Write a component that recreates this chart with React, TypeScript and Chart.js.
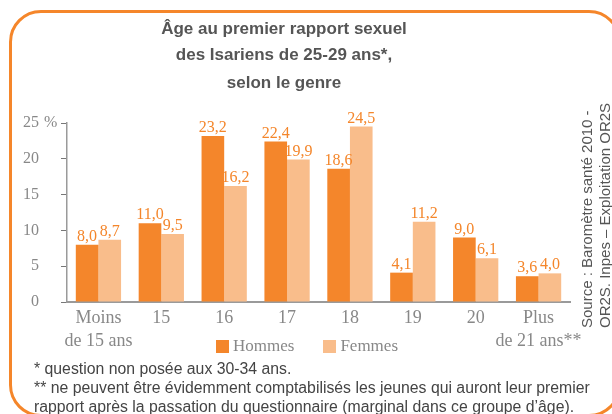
import React, { useEffect, useRef } from "react";
import { Chart, registerables } from "chart.js";

Chart.register(...registerables);

const categories: (string | string[])[] = [
  ["Moins", "de 15 ans"],
  "15",
  "16",
  "17",
  "18",
  "19",
  "20",
  ["Plus", "de 21 ans**"],
];
const hommes = [8.0, 11.0, 23.2, 22.4, 18.6, 4.1, 9.0, 3.6];
const femmes = [8.7, 9.5, 16.2, 19.9, 24.5, 11.2, 6.1, 4.0];
const yTicks = [0, 5, 10, 15, 20, 25];
const seriesNames = ["Hommes", "Femmes"];
const titleLines = [
  "Âge au premier rapport sexuel",
  "des Isariens de 25-29 ans*,",
  "selon le genre",
];
const footnotes = [
  "* question non posée aux 30-34 ans.",
  "** ne peuvent être évidemment comptabilisés les jeunes qui auront leur premier",
  "rapport après la passation du questionnaire (marginal dans ce groupe d’âge).",
];
const sourceLines = ["Source : Baromètre santé 2010 -", "OR2S. Inpes – Exploitation OR2S"];

const C_H = "#F4862B";
const C_F = "#F9BD8B";
const SERIF = "'Liberation Serif', 'Times New Roman', serif";
const SANS = "'Liberation Sans', Arial, sans-serif";

const valueLabels = {
  id: "valueLabels",
  afterDatasetsDraw(chart: any) {
    const ctx = chart.ctx;
    ctx.save();
    ctx.fillStyle = C_H;
    ctx.font = `16px ${SERIF}`;
    ctx.textAlign = "center";
    ctx.textBaseline = "alphabetic";
    chart.data.datasets.forEach((ds: any, di: number) => {
      const meta = chart.getDatasetMeta(di);
      meta.data.forEach((el: any, i: number) => {
        const v = ds.data[i] as number;
        ctx.fillText(v.toFixed(1).replace(".", ","), el.x, el.y - 4);
      });
    });
    const ys = chart.scales.y;
    ctx.fillStyle = "#888";
    ctx.textAlign = "left";
    ctx.textBaseline = "middle";
    ctx.fillText("%", 44, ys.getPixelForValue(yTicks[yTicks.length - 1]));
    ctx.restore();
  },
};

export default function App() {
  const ref = useRef<HTMLCanvasElement | null>(null);
  useEffect(() => {
    if (!ref.current) return;
    const chart = new Chart(ref.current, {
      type: "bar",
      data: {
        labels: categories as any,
        datasets: [
          {
            label: seriesNames[0],
            data: hommes,
            backgroundColor: C_H,
            barPercentage: 1,
            categoryPercentage: 0.72,
          },
          {
            label: seriesNames[1],
            data: femmes,
            backgroundColor: C_F,
            barPercentage: 1,
            categoryPercentage: 0.72,
          },
        ],
      },
      options: {
        responsive: false,
        animation: false,
        devicePixelRatio: 1,
        layout: { padding: { top: 123, right: 42, left: 0, bottom: 0 } },
        plugins: {
          legend: { display: false },
          title: { display: false },
          tooltip: { enabled: false },
        },
        scales: {
          x: {
            grid: { display: false, drawTicks: false },
            border: { color: "#9a9a9a", width: 2 },
            ticks: {
              color: "#888",
              font: { family: SERIF, size: 18, lineHeight: 1.28 },
              padding: 5,
              maxRotation: 0,
              autoSkip: false,
            },
            afterFit: (s: any) => {
              s.height = 112;
            },
          },
          y: {
            min: yTicks[0],
            max: yTicks[yTicks.length - 1],
            afterBuildTicks: (s: any) => {
              s.ticks = yTicks.map((v) => ({ value: v }));
            },
            ticks: {
              color: "#888",
              font: { family: SERIF, size: 16 },
              padding: 22,
            },
            grid: {
              drawOnChartArea: false,
              drawTicks: true,
              tickLength: 6,
              color: "#777",
            },
            border: { color: "#9a9a9a", width: 1.5 },
            afterFit: (s: any) => {
              s.width = 67;
            },
          },
        },
      },
      plugins: [valueLabels],
    });
    return () => chart.destroy();
  }, []);

  const titleTops = [18, 44, 72];
  return (
    <div
      style={{
        position: "fixed",
        left: 0,
        top: 0,
        width: 612,
        height: 414,
        overflow: "hidden",
        background: "#fff",
      }}
    >
      <div
        style={{
          position: "absolute",
          left: 9,
          top: 10,
          width: 606,
          height: 401,
          border: "3px solid #F5862A",
          borderRadius: 32,
        }}
      />
      <canvas
        ref={ref}
        width={612}
        height={414}
        style={{ position: "absolute", left: 0, top: 0 }}
      />
      {titleLines.map((t, i) => (
        <div
          key={i}
          style={{
            position: "absolute",
            left: 84,
            width: 400,
            top: titleTops[i],
            textAlign: "center",
            font: `bold 17px/22px ${SANS}`,
            color: "#555",
            whiteSpace: "nowrap",
          }}
        >
          {t}
        </div>
      ))}
      <div
        style={{
          position: "absolute",
          left: 216,
          top: 336,
          display: "flex",
          alignItems: "center",
          font: `17px/20px ${SERIF}`,
          color: "#888",
          whiteSpace: "nowrap",
        }}
      >
        <span style={{ width: 13, height: 13, background: C_H, display: "inline-block", marginRight: 4 }} />
        <span style={{ marginRight: 29 }}>{seriesNames[0]}</span>
        <span style={{ width: 13, height: 13, background: C_F, display: "inline-block", marginRight: 4 }} />
        <span>{seriesNames[1]}</span>
      </div>
      <div
        style={{
          position: "absolute",
          left: 34,
          top: 359,
          font: `15.8px/19px ${SANS}`,
          color: "#444",
          whiteSpace: "nowrap",
        }}
      >
        {footnotes.map((f, i) => (
          <div key={i}>{f}</div>
        ))}
      </div>
      <div
        style={{
          position: "absolute",
          left: 578,
          top: 90,
          height: 238,
          writingMode: "vertical-rl",
          transform: "rotate(180deg)",
          font: `15px/18px ${SANS}`,
          color: "#555",
          whiteSpace: "nowrap",
        }}
      >
        {sourceLines.map((s, i) => (
          <div key={i}>{s}</div>
        ))}
      </div>
    </div>
  );
}
